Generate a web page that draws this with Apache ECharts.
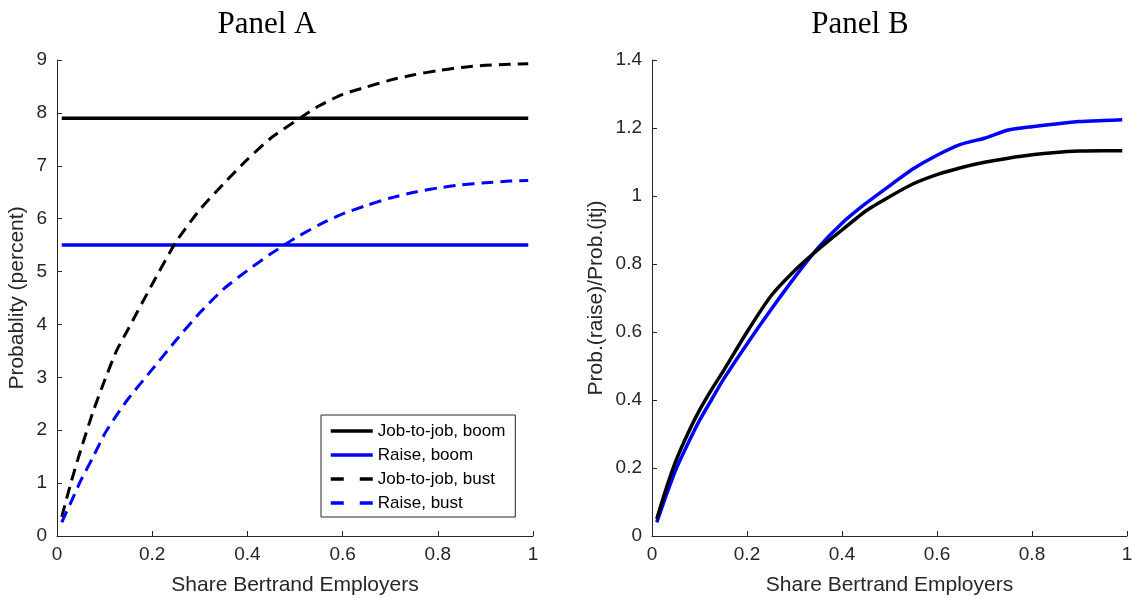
<!DOCTYPE html>
<html>
<head>
<meta charset="utf-8">
<script src="https://cdn.jsdelivr.net/npm/echarts@6/dist/echarts.min.js"></script>
<style>
  html, body { margin: 0; padding: 0; background: #fff; }
  #chart { width: 1132px; height: 598px; }
</style>
</head>
<body>
<div id="chart"></div>
<script>
const shareX = [0.01, 0.03, 0.05, 0.075, 0.1, 0.125, 0.15, 0.2, 0.25, 0.3, 0.35, 0.4, 0.45,
  0.5, 0.55, 0.6, 0.65, 0.7, 0.75, 0.8, 0.85, 0.9, 0.95, 0.99]

// Panel A
const boomX = [0.01, 0.99]
const jtjBoom = [7.9, 7.9]
const raiseBoom = [5.5, 5.5]
const jtjBust = [0.36, 1.03, 1.63, 2.33, 2.94, 3.5, 3.92, 4.76, 5.56, 6.17, 6.66, 7.12, 7.53,
  7.84, 8.13, 8.35, 8.49, 8.62, 8.72, 8.8, 8.86, 8.9, 8.92, 8.93]
const raiseBust = [0.26, 0.65, 1.05, 1.48, 1.93, 2.28, 2.6, 3.15, 3.7, 4.22, 4.67, 5.02, 5.34,
  5.63, 5.88, 6.09, 6.25, 6.39, 6.5, 6.58, 6.64, 6.68, 6.71, 6.72]

// Panel B
const ratioBlack = [0.05, 0.14, 0.22, 0.3, 0.37, 0.43, 0.485, 0.6, 0.705, 0.78, 0.843, 0.9, 0.956,
  0.998, 1.036, 1.063, 1.083, 1.099, 1.111, 1.121, 1.128, 1.132, 1.133, 1.133]
const ratioBlue = [0.04, 0.12, 0.195, 0.27, 0.34, 0.4, 0.46, 0.565, 0.665, 0.76, 0.848, 0.92, 0.978,
  1.03, 1.08, 1.12, 1.152, 1.17, 1.194, 1.204, 1.212, 1.219, 1.222, 1.224]

const xTicks = { min: 0, max: 1, interval: 0.2 }
const yTicksA = { min: 0, max: 9, interval: 1 }
const yTicksB = { min: 0, max: 1.4, interval: 0.2 }

const ink = '#262626'
const sans = 'Liberation Sans, Arial, sans-serif'
const serif = 'Liberation Serif, serif'

function pairs(xs, ys) {
  return xs.map((x, i) => [x, ys[i]])
}

function axisBase(idx, ticks, name, gap, isY) {
  return {
    type: 'value',
    gridIndex: idx,
    min: ticks.min,
    max: ticks.max,
    interval: ticks.interval,
    name: name,
    nameLocation: 'middle',
    nameGap: gap,
    nameRotate: isY ? 90 : 0,
    nameTextStyle: { fontSize: 21, color: ink, fontFamily: sans },
    axisLine: { show: true, onZero: false, lineStyle: { color: ink, width: 1 } },
    axisTick: { show: true, inside: true, length: 5, lineStyle: { color: ink } },
    axisLabel: { margin: isY ? 10 : 9, fontSize: 19, color: ink, fontFamily: sans },
    splitLine: { show: false }
  }
}

function line(name, xs, ys, color, dashed, xi) {
  return {
    name: name,
    type: 'line',
    xAxisIndex: xi,
    yAxisIndex: xi,
    data: pairs(xs, ys),
    showSymbol: false,
    symbol: 'none',
    smooth: 0.2,
    lineStyle: { color: color, width: dashed ? 3 : 3.5, type: dashed ? [12, 7] : 'solid' },
    itemStyle: { color: color }
  }
}

const chart = echarts.init(document.getElementById('chart'))
chart.setOption({
  animation: false,
  backgroundColor: '#fff',
  graphic: [
    { type: 'text', x: 267, y: 25, style: { text: 'Panel A', fontSize: 31, fontFamily: serif, fill: '#000', align: 'center', verticalAlign: 'middle' } },
    { type: 'text', x: 860, y: 25, style: { text: 'Panel B', fontSize: 31, fontFamily: serif, fill: '#000', align: 'center', verticalAlign: 'middle' } }
  ],
  grid: [
    { left: 57, right: 599, top: 60, bottom: 62, outerBoundsMode: 'none' },
    { left: 652, right: 5, top: 60, bottom: 62, outerBoundsMode: 'none' }
  ],
  xAxis: [
    axisBase(0, xTicks, 'Share Bertrand Employers', 39, false),
    axisBase(1, xTicks, 'Share Bertrand Employers', 39, false)
  ],
  yAxis: [
    axisBase(0, yTicksA, 'Probablity (percent)', 29, true),
    axisBase(1, yTicksB, 'Prob.(raise)/Prob.(jtj)', 45, true)
  ],
  legend: {
    left: 321,
    top: 415,
    orient: 'vertical',
    backgroundColor: '#fff',
    borderColor: ink,
    borderWidth: 1,
    borderRadius: 0,
    padding: [7, 10, 5, 8],
    itemWidth: 42,
    itemHeight: 18,
    itemGap: 6,
    itemStyle: { opacity: 0 },
    textStyle: { fontSize: 17, color: '#000', fontFamily: sans, lineHeight: 18 },
    data: [
      { name: 'Job-to-job, boom', lineStyle: { width: 3.5 } },
      { name: 'Raise, boom', lineStyle: { width: 3.5 } },
      { name: 'Job-to-job, bust', lineStyle: { width: 3.5, type: [13, 16] } },
      { name: 'Raise, bust', lineStyle: { width: 3.5, type: [13, 16] } }
    ]
  },
  series: [
    line('Job-to-job, boom', boomX, jtjBoom, '#000000', false, 0),
    line('Raise, boom', boomX, raiseBoom, '#0000ff', false, 0),
    line('Job-to-job, bust', shareX, jtjBust, '#000000', true, 0),
    line('Raise, bust', shareX, raiseBust, '#0000ff', true, 0),
    line('Ratio, boom', shareX, ratioBlue, '#0000ff', false, 1),
    line('Ratio, bust', shareX, ratioBlack, '#000000', false, 1)
  ]
})
</script>
</body>
</html>
